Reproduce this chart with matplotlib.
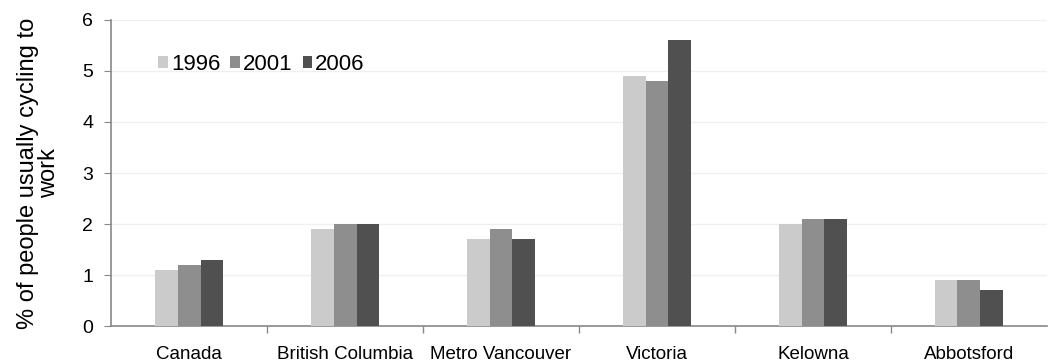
import numpy as np
import matplotlib.pyplot as plt

plt.rcParams['font.family'] = ['Liberation Sans', 'DejaVu Sans']

places = ['Canada', 'British Columbia', 'Metro Vancouver', 'Victoria', 'Kelowna', 'Abbotsford']
years = ['1996', '2001', '2006']
share_1996 = [1.1, 1.9, 1.7, 4.9, 2.0, 0.9]
share_2001 = [1.2, 2.0, 1.9, 4.8, 2.1, 0.9]
share_2006 = [1.3, 2.0, 1.7, 5.6, 2.1, 0.7]
colors = ['#cbcbcb', '#8e8e8e', '#505050']

fig = plt.figure(figsize=(10.48, 3.62), dpi=100)
ax = fig.add_axes([0.106, 0.099, 0.893, 0.846])

x = np.arange(len(places))
w = 0.147
for i, (vals, c, yr) in enumerate(zip([share_1996, share_2001, share_2006], colors, years)):
    ax.bar(x + (i - 1) * w, vals, w, color=c, label=yr, zorder=3)

ax.set_xlim(-0.5, len(places) - 0.5)
ax.set_ylim(0, 6)
ax.set_yticks(range(7))
ax.yaxis.grid(True, color='#f0f0f0', linewidth=1, zorder=0)

ax.set_xticks(x)
ax.set_xticklabels(places, fontsize=13.5)
ax.set_xticks(np.arange(0.5, len(places) - 0.5, 1), minor=True)
ax.tick_params(axis='x', which='major', length=0, pad=14)
ax.tick_params(axis='x', which='minor', length=5, color='#888888', width=1)
ax.tick_params(axis='y', labelsize=14, length=5, color='#888888', pad=8)

for s in ['top', 'right']:
    ax.spines[s].set_visible(False)
for s in ['left', 'bottom']:
    ax.spines[s].set_color('#888888')
    ax.spines[s].set_linewidth(1.2)

ax.set_ylabel('% of people usually cycling to\nwork', fontsize=17, linespacing=0.95, labelpad=16)

ax.legend(loc='upper left', bbox_to_anchor=(0.029, 0.955), ncol=3, frameon=False, fontsize=16,
          handlelength=0.42, handleheight=0.42, handletextpad=0.15, columnspacing=0.45)

fig.savefig('out.png', dpi=100)
